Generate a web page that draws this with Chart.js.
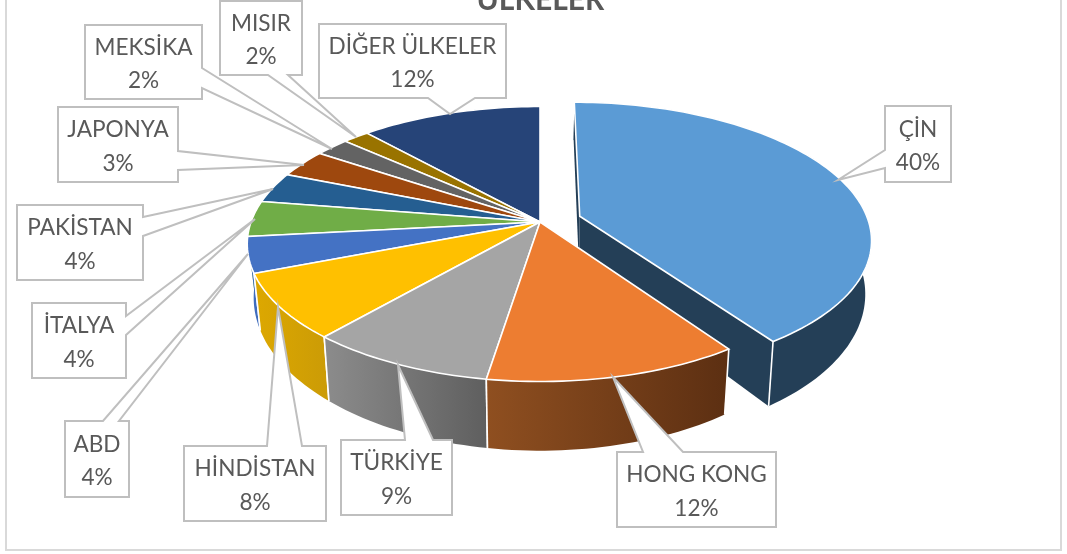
<!DOCTYPE html>
<html>
<head>
<meta charset="utf-8">
<style>
  html, body { margin: 0; background: #fff; overflow: hidden; }
  canvas { display: block; }
</style>
<script src="https://cdn.jsdelivr.net/npm/chart.js@4"></script>
</head>
<body>
<canvas id="chart" width="1067" height="554"></canvas>
<script>
const countries = ["ÇİN", "HONG KONG", "TÜRKİYE", "HİNDİSTAN", "ABD", "İTALYA", "PAKİSTAN", "JAPONYA", "MEKSİKA", "MISIR", "DİĞER ÜLKELER"];
const shares = [40.4, 12.1, 8.9, 7.7, 4.2, 4.2, 3.6, 3.3, 2.2, 1.7, 11.7];

const topColors = ["#5b9bd5", "#ed7d31", "#a5a5a5", "#ffc000", "#4472c4", "#70ad47", "#255e91", "#9e480e", "#636363", "#997300", "#264478"];
const wallLeft = ["#243f57", "#8f4f20", "#8c8c8c", "#dda800", "#3f6cbd", "#70ad47", "#255e91", "#9e480e", "#636363", "#997300", "#264478"];
const wallRight = ["#243f57", "#5c2f12", "#5f5f5f", "#cc9c06", "#3f6cbd", "#70ad47", "#255e91", "#9e480e", "#636363", "#997300", "#264478"];
const explode = [0.145, 0, 0, 0, 0, 0, 0, 0, 0, 0, 0];

// callout boxes: [left, top, right, bottom], then the two wedge base points and the tip
const calloutBoxes = [
  [885, 106, 951, 182], [617, 452, 776, 527], [341, 440, 452, 515], [184, 446, 326, 521],
  [65, 421, 129, 497], [32, 303, 126, 378], [17, 205, 143, 280], [58, 107, 178, 182],
  [85, 25, 202, 99], [220, 1, 302, 75], [319, 24, 506, 98]
];
const calloutWedges = [
  [[885, 150], [838, 180], [885, 168]], [[643, 452], [613, 377], [683, 452]], [[405, 440], [398, 365], [433, 440]], [[267, 446], [278, 307], [302, 446]],
  [[103, 421], [248, 254], [119, 421]], [[126, 316], [255, 219], [126, 335]], [[143, 217], [273, 189], [143, 236]], [[178, 151], [304, 165], [178, 170]],
  [[202, 68], [332, 149], [202, 88]], [[268, 75], [356, 137], [288, 75]], [[428, 98], [450, 114], [475, 98]]
];

// the pie is seen in perspective, so the disc goes through a small projection
const CX = 540, CY = 222, RX = 289, RY = 134, P = 0.16;

function project(u, v) {
  const s = 1 / (1 - P * v);
  return { x: CX + RX * u * s, y: CY + RY * v * s };
}

// bottom rim of the slab, fitted on the wall corners
function lower(pt, index) {
  const squeeze = explode[index] > 0 ? 0.981 : 0.978;
  return { x: CX + (pt.x - CX) * squeeze, y: pt.y * 1.112 + 26.4 };
}

function slicePoints(arc, index) {
  const a0 = arc.startAngle + Math.PI / 2;
  const a1 = arc.endAngle + Math.PI / 2;
  const mid = (a0 + a1) / 2;
  const du = Math.sin(mid) * explode[index];
  const dv = -Math.cos(mid) * explode[index];
  const rim = [];
  const steps = Math.max(4, Math.ceil((a1 - a0) * 40));
  for (let i = 0; i <= steps; i++) {
    const a = a0 + (a1 - a0) * i / steps;
    rim.push(project(Math.sin(a) + du, -Math.cos(a) + dv));
  }
  return { apex: project(du, dv), rim, depth: -Math.cos(mid) };
}

function polygon(ctx, points) {
  ctx.beginPath();
  points.forEach((p, i) => (i ? ctx.lineTo(p.x, p.y) : ctx.moveTo(p.x, p.y)));
  ctx.closePath();
}

function drawWalls(ctx, slice, index) {
  const { apex, rim } = slice;
  const first = rim[0];
  const last = rim[rim.length - 1];
  const xs = rim.map((p) => p.x);
  const grad = ctx.createLinearGradient(Math.min(...xs), 0, Math.max(...xs), 0);
  grad.addColorStop(0, wallLeft[index]);
  grad.addColorStop(1, wallRight[index]);
  if (explode[index] > 0) {
    ctx.fillStyle = wallRight[index];
    polygon(ctx, [apex, first, lower(first, index), lower(apex, index)]);
    ctx.fill();
    polygon(ctx, [apex, last, lower(last, index), lower(apex, index)]);
    ctx.fill();
  }
  ctx.fillStyle = grad;
  polygon(ctx, rim.concat(rim.map((p) => lower(p, index)).reverse()));
  ctx.fill();
  // white seams down the wall corners
  ctx.strokeStyle = "#fff";
  ctx.lineWidth = 1.6;
  [first, last].forEach((p) => {
    const q = lower(p, index);
    if (p.y > 260) {
      ctx.beginPath();
      ctx.moveTo(p.x, p.y);
      ctx.lineTo(q.x, q.y);
      ctx.stroke();
    }
  });
}

function drawCallout(ctx, index) {
  const [l, t, r, b] = calloutBoxes[index];
  const [a, tip, c] = calloutWedges[index];
  ctx.fillStyle = "#fff";
  ctx.strokeStyle = "#bfbfbf";
  ctx.lineWidth = 2;
  ctx.beginPath();
  ctx.moveTo(l, t);
  if (a[1] === t) { ctx.lineTo(a[0], t); ctx.lineTo(tip[0], tip[1]); ctx.lineTo(c[0], t); }
  ctx.lineTo(r, t);
  if (a[0] === r) { ctx.lineTo(r, a[1]); ctx.lineTo(tip[0], tip[1]); ctx.lineTo(r, c[1]); }
  ctx.lineTo(r, b);
  if (a[1] === b) { ctx.lineTo(c[0], b); ctx.lineTo(tip[0], tip[1]); ctx.lineTo(a[0], b); }
  ctx.lineTo(l, b);
  if (a[0] === l) { ctx.lineTo(l, c[1]); ctx.lineTo(tip[0], tip[1]); ctx.lineTo(l, a[1]); }
  ctx.closePath();
  ctx.fill();
  ctx.stroke();

  ctx.fillStyle = "#595959";
  ctx.font = "22.6px Lato";
  ctx.textAlign = "center";
  ctx.textBaseline = "middle";
  const mx = (l + r) / 2;
  const my = (t + b) / 2;
  ctx.fillText(countries[index], mx, my - 14.5);
  ctx.fillText(Math.round(shares[index]) + "%", mx, my + 19);
}

const pie3d = {
  id: "pie3d",
  beforeDatasetDraw(chart) {
    const ctx = chart.ctx;
    const arcs = chart.getDatasetMeta(0).data;
    const slices = arcs.map(slicePoints);
    const order = slices.map((s, i) => i).sort((a, b) => {
      return (explode[b] - explode[a]) || (slices[a].depth - slices[b].depth);
    });
    ctx.save();
    order.forEach((i) => drawWalls(ctx, slices[i], i));
    order.forEach((i) => {
      polygon(ctx, [slices[i].apex].concat(slices[i].rim));
      ctx.fillStyle = topColors[i];
      ctx.fill();
      ctx.strokeStyle = "#fff";
      ctx.lineWidth = 1.6;
      ctx.stroke();
    });
    ctx.restore();
    return false;
  },
  afterDraw(chart) {
    const ctx = chart.ctx;
    ctx.save();
    countries.forEach((name, i) => drawCallout(ctx, i));
    ctx.restore();
  },
  beforeDraw(chart) {
    const ctx = chart.ctx;
    ctx.save();
    ctx.fillStyle = "#fff";
    ctx.fillRect(0, 0, chart.width, chart.height);
    ctx.strokeStyle = "#d9d9d9";
    ctx.lineWidth = 2;
    ctx.strokeRect(6, -6, 1055, 556);
    ctx.restore();
  }
};

new Chart(document.getElementById("chart"), {
  type: "pie",
  data: {
    labels: countries,
    datasets: [{ data: shares, backgroundColor: topColors }]
  },
  options: {
    responsive: false,
    animation: false,
    layout: { padding: { left: 14 } },
    plugins: {
      legend: { display: false },
      tooltip: { enabled: false },
      title: {
        display: true,
        text: "ÜLKELER",
        color: "#595959",
        font: { family: "Lato", size: 30, weight: "bold" },
        padding: { top: -18, bottom: 0 }
      }
    }
  },
  plugins: [pie3d]
});
</script>
</body>
</html>
